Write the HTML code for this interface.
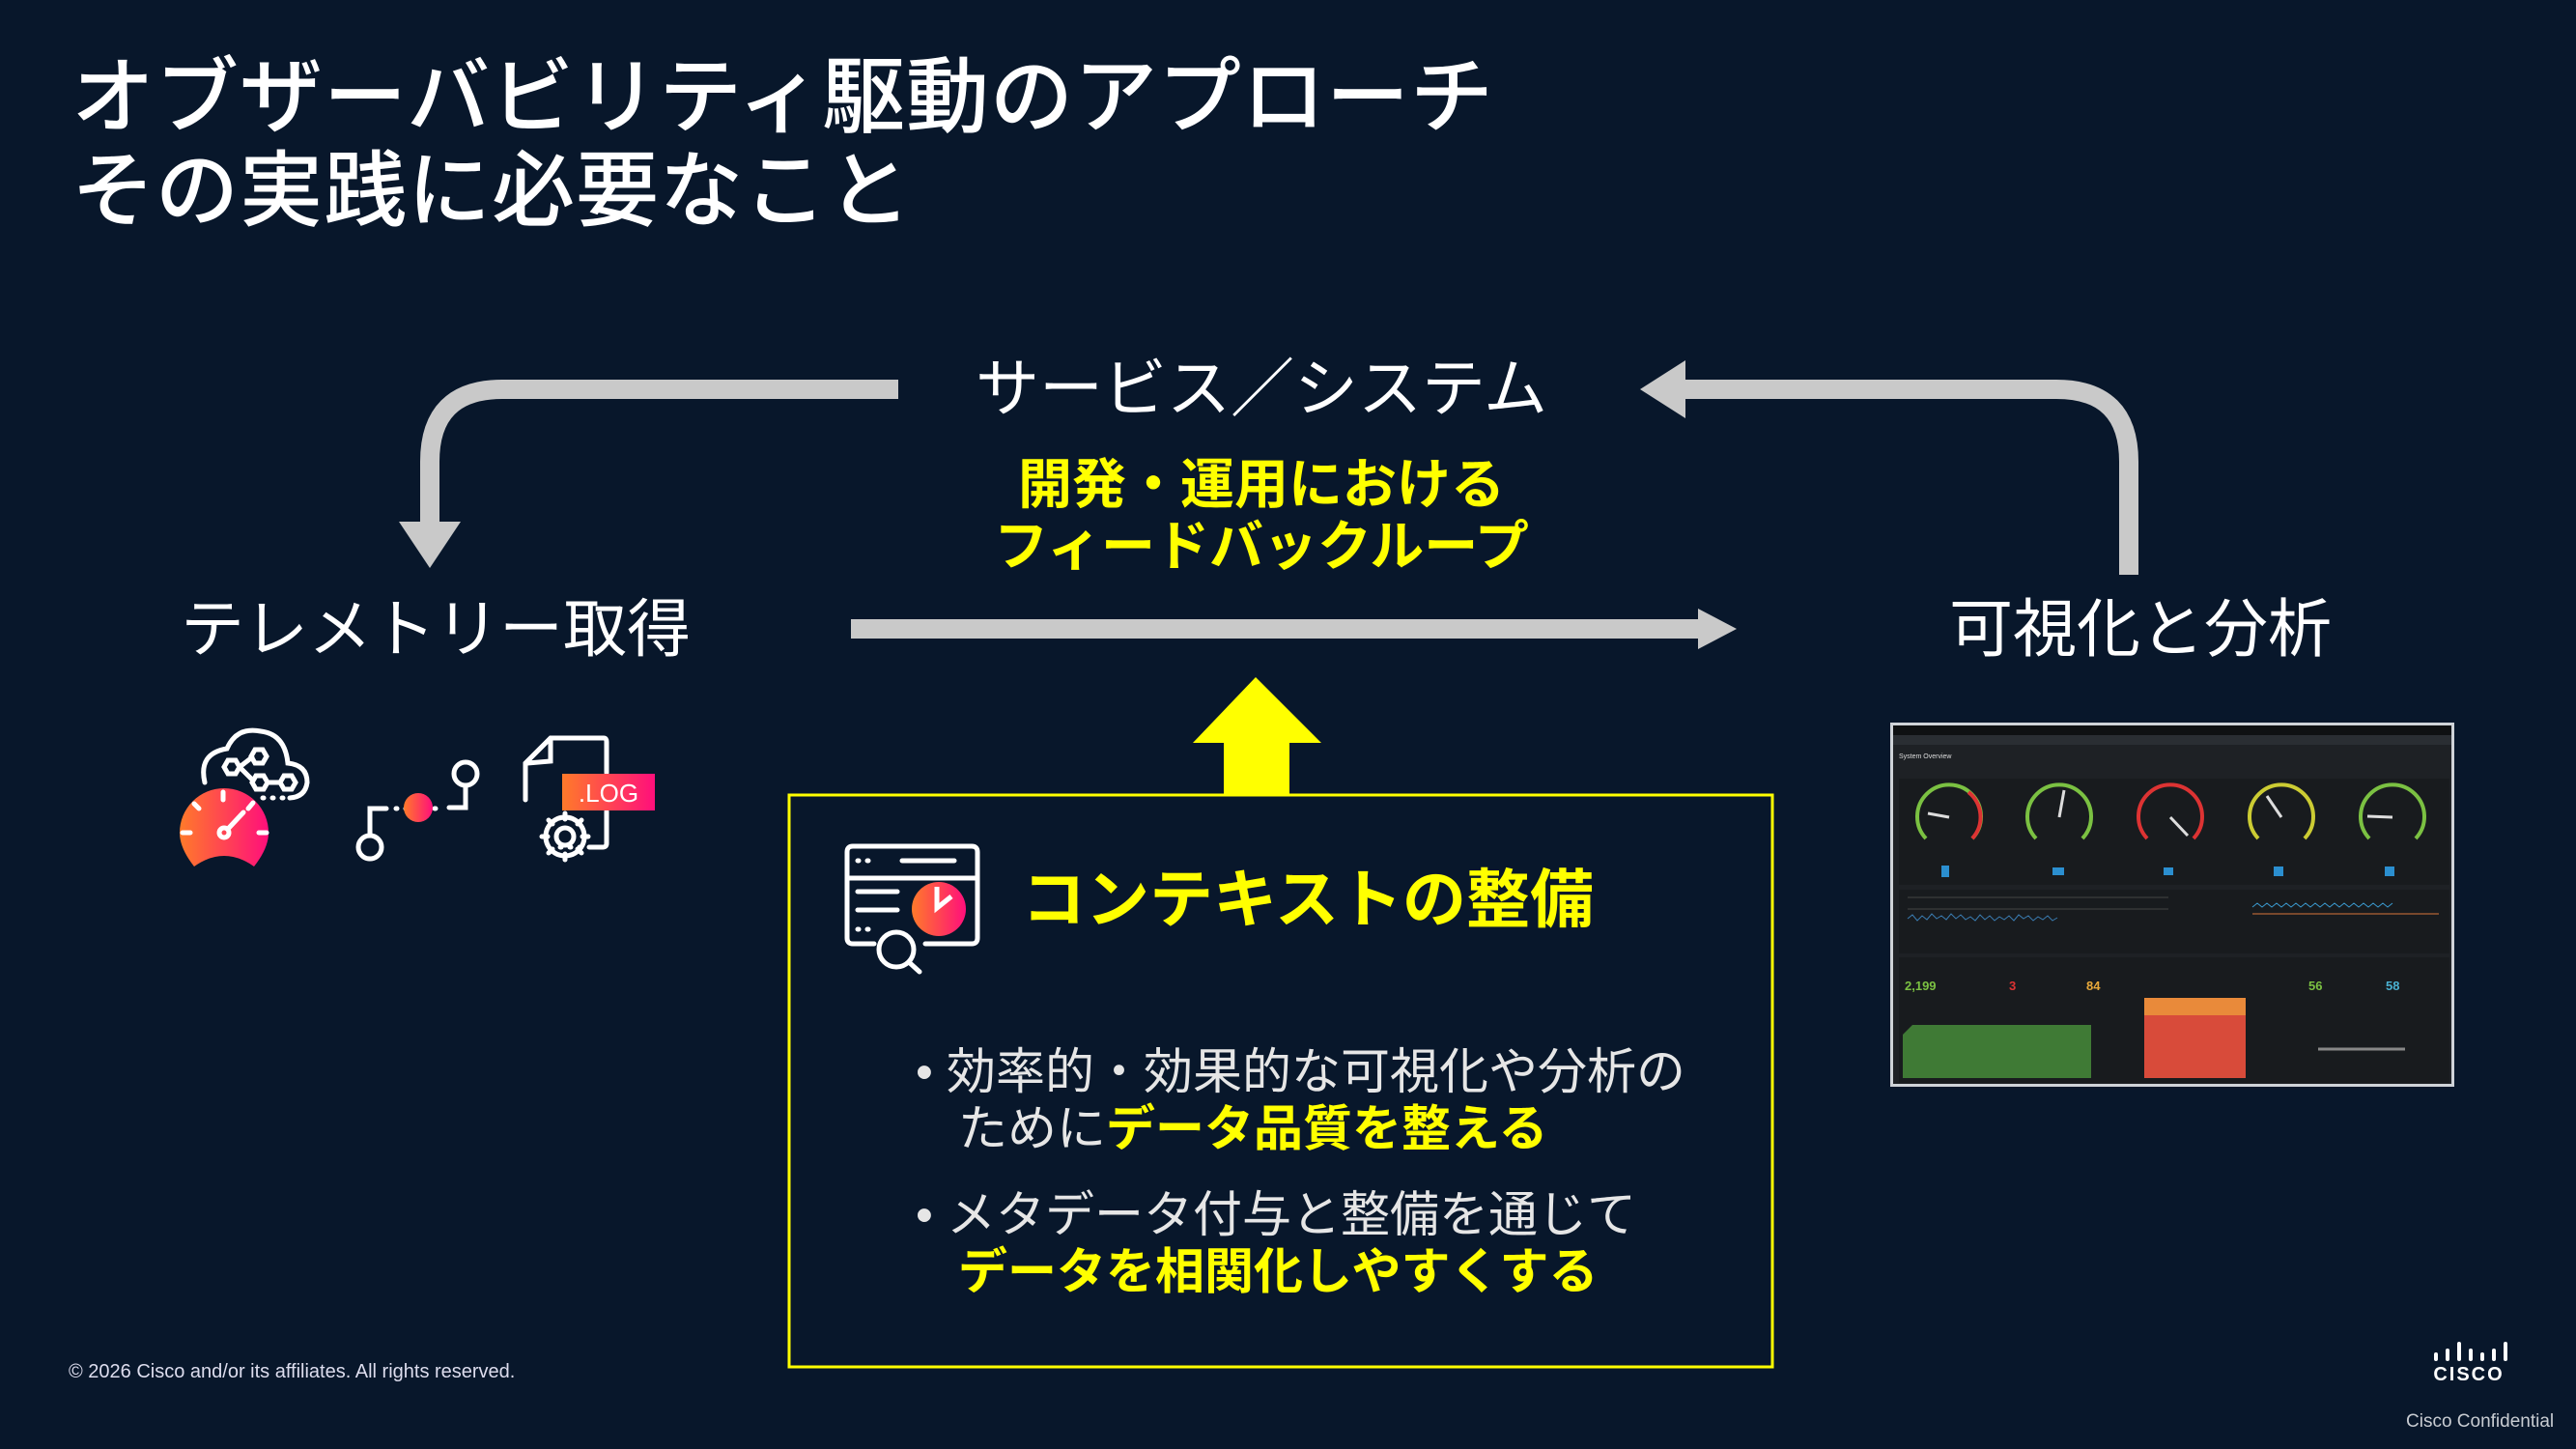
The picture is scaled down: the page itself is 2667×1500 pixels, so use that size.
<!DOCTYPE html>
<html><head><meta charset="utf-8"><style>
html,body{margin:0;padding:0;}
body{width:2667px;height:1500px;background:#08172b;position:relative;overflow:hidden;font-family:"Liberation Sans","Noto Sans CJK JP",sans-serif;color:#fff;}
.t{position:absolute;white-space:nowrap;line-height:1;}
</style></head><body>
<div class="t" style="left:74px;top:58px;font-size:86px;font-weight:500;letter-spacing:1px;">オブザーバビリティ駆動のアプローチ</div>
<div class="t" style="left:74px;top:155px;font-size:86px;font-weight:500;letter-spacing:1px;">その実践に必要なこと</div>

<div class="t" style="left:1306px;top:369px;font-size:66px;transform:translateX(-50%);">サービス／システム</div>
<div class="t" style="left:1306px;top:474px;font-size:56px;font-weight:bold;color:#ffff00;transform:translateX(-50%);">開発・運用における</div>
<div class="t" style="left:1306px;top:538px;font-size:56px;font-weight:bold;color:#ffff00;transform:translateX(-50%);">フィードバックループ</div>
<div class="t" style="left:451px;top:618px;font-size:66px;transform:translateX(-50%);">テレメトリー取得</div>
<div class="t" style="left:2216px;top:618px;font-size:66px;transform:translateX(-50%);">可視化と分析</div>

<svg style="position:absolute;left:0;top:0" width="2667" height="1500">
<defs>
<linearGradient id="g" x1="0" x2="1"><stop offset="0" stop-color="#ff7a2a"/><stop offset="1" stop-color="#ff0f7b"/></linearGradient>
</defs>
<g fill="none" stroke="#c9c9c9" stroke-width="20">
<path d="M930 403 H520 Q445 403 445 478 V540"/>
<path d="M2204 595 V478 Q2204 403 2129 403 H1740"/>
<path d="M881 651 H1760"/>
</g>
<polygon points="413,540 477,540 445,588" fill="#c9c9c9"/>
<polygon points="1745,373 1745,433 1698,403" fill="#c9c9c9"/>
<polygon points="1758,630 1758,672 1798,651" fill="#c9c9c9"/>
<polygon points="1300,701 1368,769 1335,769 1335,822 1267,822 1267,769 1235,769" fill="#ffff00"/>
<rect x="817" y="823" width="1018" height="592" fill="none" stroke="#ffff00" stroke-width="3"/>

<!-- telemetry icons -->
<g stroke="#fff" stroke-width="5" fill="none" stroke-linecap="round">
<path d="M212 810 Q205 780 235 775 Q245 752 270 757 Q295 760 298 790 Q318 792 318 810 Q316 825 300 826"/>
<polygon points="236,787 244,787 248,794 244,801 236,801 232,794"/>
<polygon points="264,776 272,776 276,783 272,790 264,790 260,783"/>
<polygon points="265,803 273,803 277,810 273,817 265,817 261,810"/>
<polygon points="294,803 302,803 306,810 302,817 294,817 290,810"/>
<path d="M248 794 L261 784 M248 794 L262 808 M277 810 H290"/>
<path d="M272 826 h1 M282 826 h1 M292 826 h1"/>
</g>
<path d="M201 897 Q186 878 186 862 A46 46 0 0 1 278 862 Q278 878 263 897 Q232 875 201 897 Z" fill="url(#g)"/>
<g stroke="#fff" stroke-width="5" stroke-linecap="round" fill="none">
<path d="M231 820 v8 M201 832 l5 5 M189 862 h8 M268 862 h8 M262 831 l-5 6 M237 857 l15 -16"/>
<circle cx="232" cy="862" r="5"/>
</g>
<g stroke="#fff" stroke-width="5" fill="none" stroke-linecap="round">
<circle cx="383" cy="877" r="12"/><path d="M383 865 V837 H400"/>
<path d="M410 837 h1 M420 837 h1 M440 837 h1 M450 837 h1"/>
<circle cx="482" cy="801" r="12"/><path d="M482 813 V836 H465"/>
</g>
<circle cx="433" cy="836" r="15" fill="url(#g)"/>
<g stroke="#fff" stroke-width="5" fill="none" stroke-linecap="round">
<path d="M544 828 V790 L570 764 H625 Q628 764 628 768 V800 M628 840 V873 Q628 877 624 877 H610 M570 764 V788 L546 790"/>
<path d="M590 877 h1 M600 877 h1 M580 877 h1"/>
<circle cx="585" cy="866" r="9"/>
<path d="M585 842 v6 M585 884 v6 M561 866 h6 M603 866 h6 M568 849 l4 4 M598 879 l4 4 M568 883 l4 -4 M598 853 l4 -4"/>
<circle cx="585" cy="866" r="20"/>
</g>
<rect x="582" y="801" width="96" height="38" fill="url(#g)"/>
<text x="630" y="830" font-family="Liberation Sans" font-size="26" fill="#fff" text-anchor="middle">.LOG</text>

<!-- context icon -->
<g stroke="#fff" stroke-width="5" fill="none" stroke-linecap="round">
<path d="M905 977 H883 Q877 977 877 971 V882 Q877 876 883 876 H1006 Q1012 876 1012 882 V971 Q1012 977 1006 977 H958"/>
<path d="M877 909 H1012 M934 891 H988 M888 891 h1 M898 891 h1 M888 923 H929 M888 942 H929 M888 962 h1 M898 962 h1"/>
<circle cx="928" cy="983" r="18"/><path d="M941 996 L952 1006"/>
</g>
<circle cx="972" cy="941" r="28" fill="url(#g)"/>
<path d="M970 918 V940 L985 928" stroke="#fff" stroke-width="5" fill="none"/>

<g stroke="#fff" stroke-width="4" stroke-linecap="round">
<path d="M2522 1402 v5 M2534 1398 v9 M2546 1391 v16 M2558 1398 v9 M2570 1402 v5 M2582 1398 v9 M2594 1391 v16"/>
</g>
<text x="2556" y="1429" font-family="Liberation Sans" font-weight="bold" font-size="20" fill="#fff" text-anchor="middle" letter-spacing="2">CISCO</text>
</svg>

<div class="t" style="left:1058px;top:898px;font-size:66px;font-weight:bold;color:#ffff00;">コンテキストの整備</div>
<div class="t" style="left:948px;top:1084px;font-size:51px;color:#e6e6e6;">•&nbsp;効率的・効果的な可視化や分析の</div>
<div class="t" style="left:992px;top:1143px;font-size:51px;color:#e6e6e6;">ために<span style="color:#ffff00;font-weight:bold">データ品質を整える</span></div>
<div class="t" style="left:948px;top:1232px;font-size:51px;color:#e6e6e6;">•&nbsp;メタデータ付与と整備を通じて</div>
<div class="t" style="left:992px;top:1291px;font-size:51px;color:#ffff00;font-weight:bold;">データを相関化しやすくする</div>

<!-- dashboard -->
<div style="position:absolute;left:1957px;top:748px;width:578px;height:371px;border:3px solid #cfd3d8;background:#1e2125;overflow:hidden;">
<div style="height:10px;background:#0f1113"></div>
<div style="height:10px;background:#2a2e33"></div>
<svg width="578" height="351" style="position:absolute;left:0;top:20px">
<text x="6" y="14" font-size="7" fill="#ddd" font-family="Liberation Sans">System Overview</text>
<rect x="6" y="35" width="570" height="110" fill="#181b1e"/>
<g fill="none" stroke-width="4">
<g transform="translate(58,75)"><path d="M-24 22 A33 33 0 1 1 24 22" stroke="#7bc142"/><path d="M20 -26 A33 33 0 0 1 24 22" stroke="#d33"/><line x1="0" y1="0" x2="-22" y2="-4" stroke="#ddd" stroke-width="3"/></g>
<g transform="translate(172,75)"><path d="M-24 22 A33 33 0 1 1 24 22" stroke="#7bc142"/><line x1="0" y1="0" x2="5" y2="-28" stroke="#ddd" stroke-width="3"/></g>
<g transform="translate(287,75)"><path d="M-24 22 A33 33 0 1 1 24 22" stroke="#d33"/><line x1="0" y1="0" x2="18" y2="19" stroke="#ddd" stroke-width="3"/></g>
<g transform="translate(402,75)"><path d="M-24 22 A33 33 0 1 1 24 22" stroke="#cc3"/><line x1="0" y1="0" x2="-15" y2="-22" stroke="#ddd" stroke-width="3"/></g>
<g transform="translate(517,75)"><path d="M-24 22 A33 33 0 1 1 24 22" stroke="#7bc142"/><line x1="0" y1="0" x2="-26" y2="-1" stroke="#ddd" stroke-width="3"/></g>
</g>
<g fill="#2b8fd0"><rect x="50" y="125" width="8" height="12"/><rect x="165" y="127" width="12" height="8"/><rect x="280" y="127" width="10" height="8"/><rect x="394" y="126" width="10" height="10"/><rect x="509" y="126" width="10" height="10"/></g>
<rect x="6" y="150" width="570" height="66" fill="#181b1e"/>
<path d="M15 180 l5 -4 5 6 5 -5 5 4 5 -6 5 5 5 -3 5 4 5 -6 5 5 5 -4 5 5 5 -3 5 4 5 -6 5 5 5 -4 5 5 5 -4 5 3 5 -4 5 5 5 -6 5 4 5 -3 5 5 5 -4 5 3 5 -4 5 5 5 -3" stroke="#3a7bb0" fill="none"/>
<path d="M15 158 H285 M15 170 H285" stroke="#444"/>
<path d="M372 168 l5 -4 5 4 5 -4 5 4 5 -4 5 4 5 -4 5 4 5 -4 5 4 5 -4 5 4 5 -4 5 4 5 -4 5 4 5 -4 5 4 5 -4 5 4 5 -4 5 4 5 -4 5 4 5 -4 5 4 5 -4 5 4 5 -4" stroke="#3a9bd0" fill="none"/>
<path d="M372 175 H565" stroke="#d9743a"/>
<rect x="6" y="220" width="570" height="130" fill="#181b1e"/>
<text x="12" y="254" font-size="13" font-weight="bold" fill="#7bc142" font-family="Liberation Sans">2,199</text>
<text x="120" y="254" font-size="13" font-weight="bold" fill="#d33" font-family="Liberation Sans">3</text>
<text x="200" y="254" font-size="13" font-weight="bold" fill="#e8a93a" font-family="Liberation Sans">84</text>
<text x="430" y="254" font-size="13" font-weight="bold" fill="#7bc142" font-family="Liberation Sans">56</text>
<text x="510" y="254" font-size="13" font-weight="bold" fill="#4ab0d0" font-family="Liberation Sans">58</text>
<path d="M10 345 V300 L20 290 H205 V345 Z" fill="#3f7a35"/>
<rect x="260" y="270" width="105" height="75" fill="#d84b3a"/>
<rect x="260" y="262" width="105" height="18" fill="#e98a3a"/>
<path d="M440 315 H530" stroke="#888" stroke-width="3"/>
</svg>
</div>

<div class="t" style="left:71px;top:1410px;font-size:20px;color:#dde;">© 2026 Cisco and/or its affiliates. All rights reserved.</div>
<div class="t" style="left:2491px;top:1462px;font-size:19px;color:#c8ccd2;">Cisco Confidential</div>
</body></html>
